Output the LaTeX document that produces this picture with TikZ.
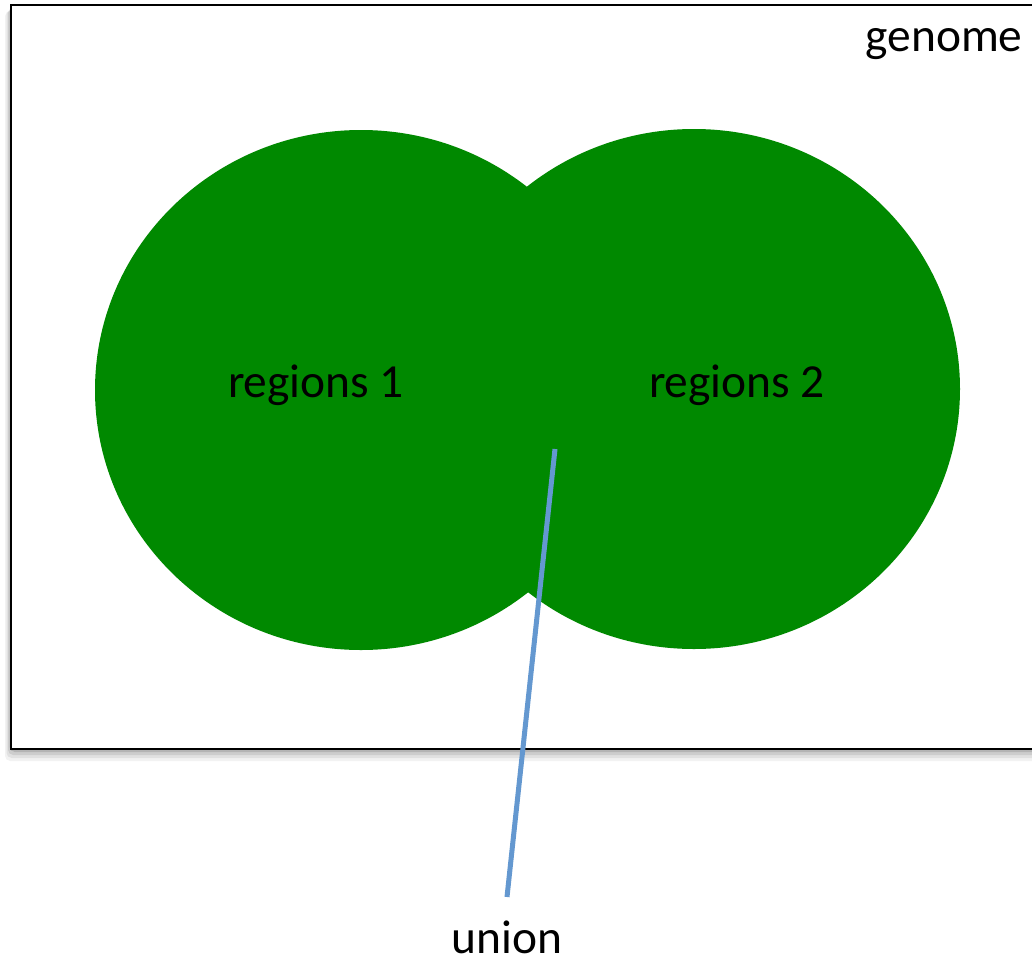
\documentclass[tikz,border=0pt]{standalone}
\usepackage{fontspec}
\setmainfont{Carlito}
\definecolor{setgreen}{RGB}{0,137,0}
\definecolor{pointerblue}{RGB}{100,152,208}
\begin{document}
\begin{tikzpicture}[x = 0.02cm, y = -0.02cm,
        font = \fontsize{27}{32}\selectfont,
        label/.style = {inner sep = 0pt, anchor = base}]
    \useasboundingbox (0, 0) rectangle (1032, 964);
    \clip (0, 0) rectangle (1032, 964);

    % genome box with soft shadow
    \foreach \off/\op in {12/0.05, 9/0.07, 6/0.09, 3/0.12} {
        \fill [black, opacity = \op, rounded corners = 3pt]
            (11 - 0.5*\off, 5 + 0.5*\off) rectangle (1060, 749 + \off);
    }
    \draw [line width = 2.5 * 0.02cm, fill = white]
        (11, 5) rectangle (1060, 749)
    ;

    % the two sets
    \fill [setgreen]
        (361, 390) ellipse [x radius = 266, y radius = 260]
        (694, 389) ellipse [x radius = 266, y radius = 260]
    ;

    \node [label] (genome)  at (944, 51)  {genome};
    \node [label] (regone)  at (316, 397) {regions 1};
    \node [label] (regtwo)  at (737, 397) {regions 2};
    \node [label] (unionlbl) at (507, 953) {union};

    \coordinate (unionpt) at (555, 449);
    \coordinate (uniontip) at (507, 897);

    \draw [pointerblue, line width = 5 * 0.02cm]
        (unionpt) -- (uniontip)
    ;
\end{tikzpicture}
\end{document}
